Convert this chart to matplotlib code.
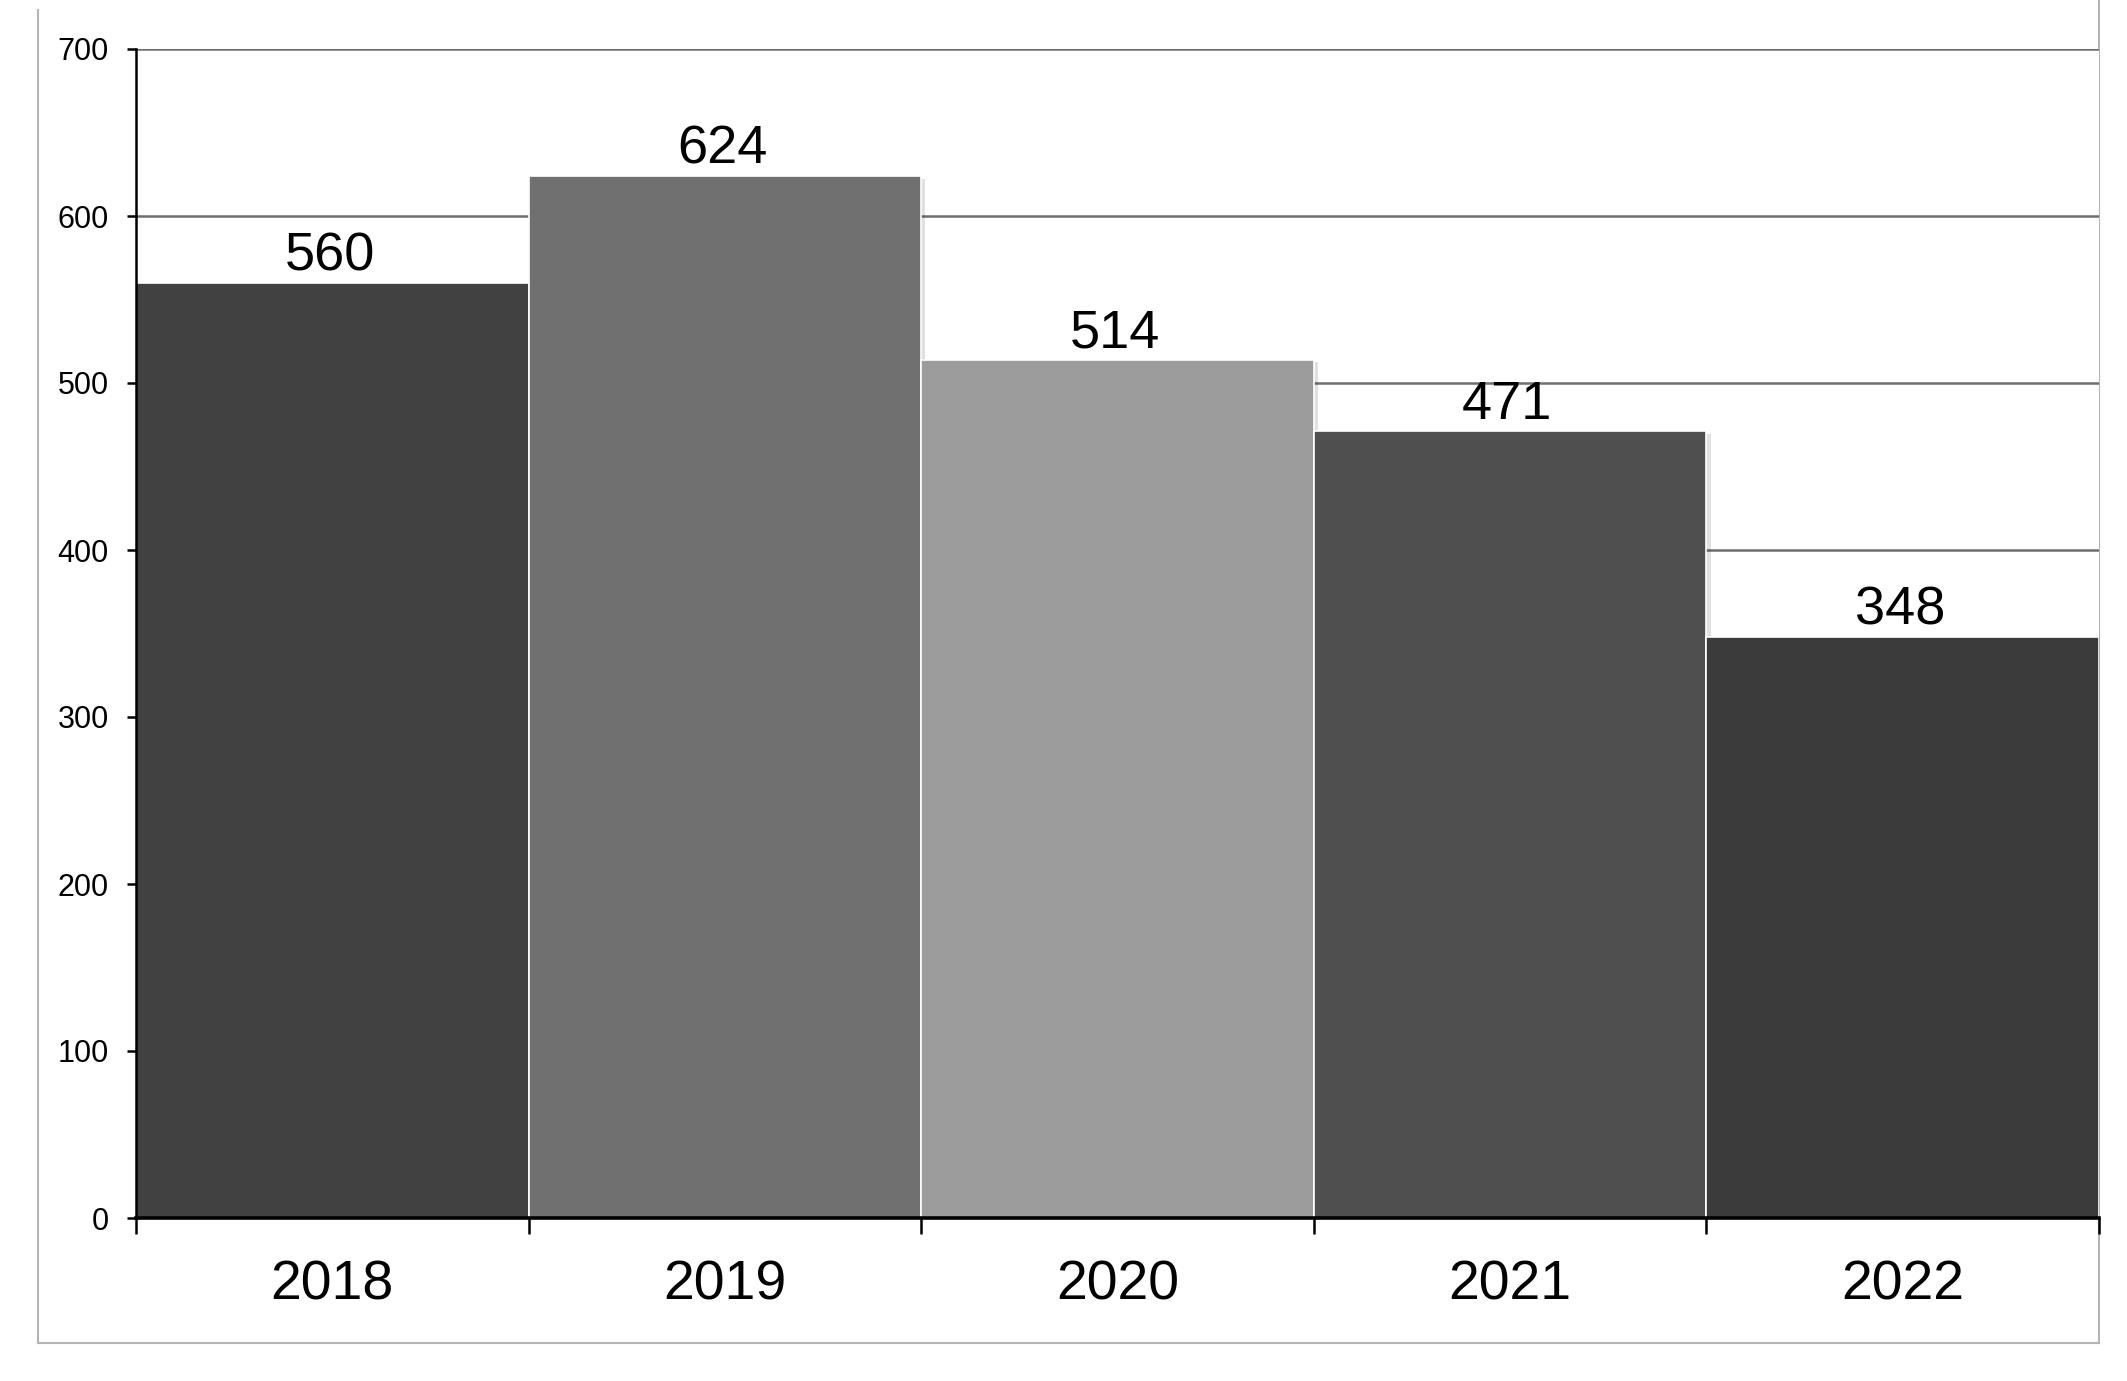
import matplotlib
matplotlib.use("Agg")
import matplotlib.pyplot as plt
from matplotlib.lines import Line2D
from matplotlib import patheffects as pe
import numpy as np

plt.rcParams['font.family'] = ['Liberation Sans', 'DejaVu Sans']

years = ["2018", "2019", "2020", "2021", "2022"]
values = [560, 624, 514, 471, 348]
colors = ["#414141", "#707070", "#9c9c9c", "#4f4f4f", "#3b3b3b"]
yticks = [0, 100, 200, 300, 400, 500, 600, 700]

W, H = 2127, 1381
fig = plt.figure(figsize=(W / 100, H / 100), dpi=100)
fig.patch.set_facecolor("white")

ax_left, ax_right = 136 / W, 2099 / W
ax_top_px, ax_bot_px = 49, 1218
ax = fig.add_axes([ax_left, (H - ax_bot_px) / H, ax_right - ax_left, (ax_bot_px - ax_top_px) / H])

x = np.arange(len(years))
bars = ax.bar(x, values, width=1.0, color=colors, edgecolor="white", linewidth=1.2, zorder=3)
for b in bars:
    b.set_path_effects([pe.SimplePatchShadow(offset=(3, -2), shadow_rgbFace="#000000", alpha=0.12), pe.Normal()])

ax.set_xlim(-0.5, len(years) - 0.5)
ax.set_ylim(0, 700)
ax.set_yticks(yticks)
ax.set_yticklabels([str(t) for t in yticks], fontsize=22)
ax.yaxis.grid(True, color="#6e6e6e", linewidth=1.8, zorder=0)
ax.set_axisbelow(True)

ax.set_xticks(x)
ax.set_xticklabels(years, fontsize=40)
ax.set_xticks(np.arange(-0.5, len(years)), minor=True)
ax.tick_params(axis="x", which="major", length=0, pad=30)
ax.tick_params(axis="x", which="minor", length=11.5, width=1.8, direction="out", color="black")
ax.tick_params(axis="y", which="major", length=6.5, width=1.8, direction="out", pad=13, color="black")

for s in ["top", "right"]:
    ax.spines[s].set_visible(False)
ax.spines["left"].set_linewidth(1.8)
ax.spines["left"].set_color("black")
ax.spines["left"].set_zorder(5)
ax.spines["bottom"].set_linewidth(2.6)
ax.spines["bottom"].set_color("black")
ax.spines["bottom"].set_zorder(5)

for xi, v in zip(x, values):
    ax.annotate(str(v), xy=(xi, v), xytext=(-2, 9), textcoords="offset points",
                ha="center", va="baseline", fontsize=39, color="black", zorder=6)

# outer light-gray frame (left, bottom, right)
fl, fr = 38 / W, 2099 / W
ftop, fbot = (H - 10) / H, (H - 1343) / H
frame_kw = dict(color="#b5b5b5", linewidth=1.5, transform=fig.transFigure, zorder=0)
fig.add_artist(Line2D([fl, fl], [ftop, fbot], **frame_kw))
fig.add_artist(Line2D([fl, fr], [fbot, fbot], **frame_kw))
fig.add_artist(Line2D([fr, fr], [fbot, 1.0], **frame_kw))

fig.savefig("out.png", dpi=100, facecolor="white")
